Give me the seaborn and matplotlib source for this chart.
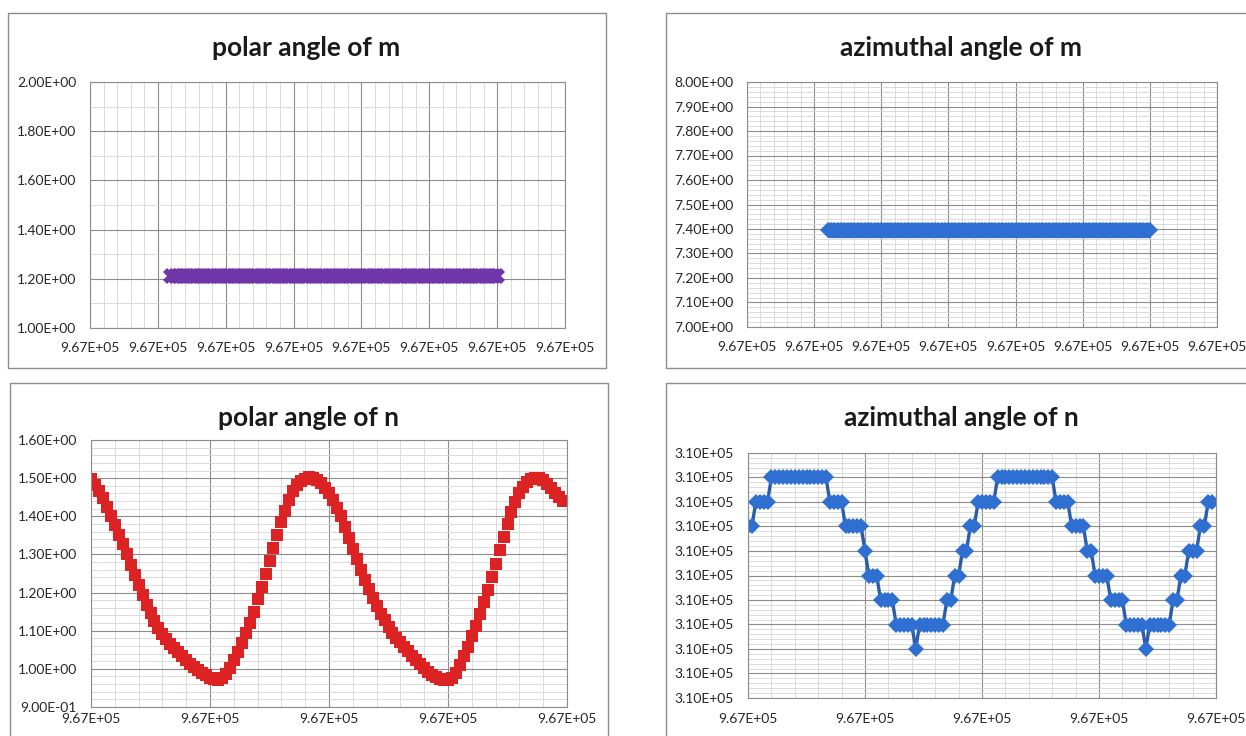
import numpy as np
import pandas as pd
import seaborn as sns
import matplotlib.pyplot as plt
from matplotlib.ticker import MultipleLocator, AutoMinorLocator, FuncFormatter
from matplotlib.patches import Rectangle

# sample times (every label reads 9.67E+05)
t_m = 967212.0 + 0.5 * np.arange(97)
t_n = 967230.0 + 0.1 * np.arange(120)

polar_m_value = 1.21
azim_m_value = 7.395

polar_n = [
    1.498, 1.482, 1.466, 1.447, 1.425, 1.402, 1.378, 1.352, 1.327, 1.300,
    1.272, 1.245, 1.219, 1.193, 1.168, 1.146, 1.126, 1.108, 1.092, 1.078,
    1.066, 1.054, 1.044, 1.033, 1.022, 1.013, 1.005, 0.998, 0.990, 0.983,
    0.977, 0.973, 0.972, 0.975, 0.986, 1.003, 1.022, 1.043, 1.067, 1.093,
    1.120, 1.150, 1.182, 1.215, 1.248, 1.283, 1.318, 1.352, 1.385, 1.415,
    1.443, 1.465, 1.482, 1.493, 1.499, 1.502, 1.501, 1.495, 1.486, 1.475,
    1.462, 1.443, 1.422, 1.400, 1.372, 1.343, 1.315, 1.287, 1.260, 1.233,
    1.210, 1.187, 1.166, 1.145, 1.127, 1.110, 1.095, 1.082, 1.070, 1.058,
    1.046, 1.035, 1.023, 1.012, 1.002, 0.993, 0.985, 0.978, 0.973, 0.971,
    0.972, 0.977, 0.990, 1.010, 1.033, 1.058, 1.085, 1.113, 1.143, 1.175,
    1.208, 1.242, 1.276, 1.311, 1.346, 1.380, 1.410, 1.437, 1.460, 1.478,
    1.490, 1.498, 1.501, 1.500, 1.494, 1.485, 1.473, 1.460, 1.451, 1.440,
]

# azimuthal angle of n, in steps of 0.1 above 309999.5
azim_n_steps = [
    7, 7, 8, 8, 8, 8, 9, 9, 9, 9,
    9, 9, 9, 9, 9, 9, 9, 9, 9, 9,
    9, 8, 8, 8, 8, 7, 7, 7, 7, 7,
    6, 5, 5, 5, 4, 4, 4, 4, 3, 3,
    3, 3, 3, 2, 3, 3, 3, 3, 3, 3,
    3, 4, 4, 5, 5, 6, 6, 7, 7, 8,
    8, 8, 8, 8, 9, 9, 9, 9, 9, 9,
    9, 9, 9, 9, 9, 9, 9, 9, 9, 8,
    8, 8, 8, 7, 7, 7, 7, 6, 6, 5,
    5, 5, 5, 4, 4, 4, 4, 3, 3, 3,
    3, 3, 2, 3, 3, 3, 3, 3, 3, 4,
    4, 5, 5, 6, 6, 6, 7, 7, 8, 8,
]
azim_n = 309999.5 + 0.1 * np.array(azim_n_steps)

titles = ["polar angle of m", "azimuthal angle of m", "polar angle of n", "azimuthal angle of n"]

purple = "#7035A8"
blue = "#2E6FD1"
red = "#DC2222"

sns.set_style("white")
plt.rcParams["font.family"] = ["Lato", "DejaVu Sans"]

W, H = 1246, 736
fig = plt.figure(figsize=(W / 100, H / 100), dpi=100)


def px_axes(x0, y0, x1, y1):
    return fig.add_axes([x0 / W, 1 - y1 / H, (x1 - x0) / W, (y1 - y0) / H])


def box(x0, y0, x1, y1):
    fig.add_artist(Rectangle((x0 / W, 1 - y1 / H), (x1 - x0) / W, (y1 - y0) / H,
                             transform=fig.transFigure, fill=False,
                             edgecolor="#8c8c8c", lw=1.0))


sci = FuncFormatter(lambda v, p: f"{v:.2E}")


def style(ax, xlim, xstep, ylim, ystep, yminor, xpad):
    ax.set_xlim(*xlim)
    ax.set_ylim(*ylim)
    ax.xaxis.set_major_locator(MultipleLocator(xstep))
    ax.xaxis.set_minor_locator(AutoMinorLocator(5))
    ax.yaxis.set_major_locator(MultipleLocator(ystep))
    ax.yaxis.set_minor_locator(AutoMinorLocator(yminor))
    ax.xaxis.set_major_formatter(sci)
    ax.yaxis.set_major_formatter(sci)
    ax.grid(which="major", color="#8c8c8c", lw=0.8)
    ax.grid(which="minor", color="#d6d6d6", lw=0.6)
    ax.set_axisbelow(True)
    for s in ax.spines.values():
        s.set_color("#8c8c8c")
        s.set_linewidth(0.8)
    ax.tick_params(which="major", length=3, width=0.8, color="#8c8c8c",
                   labelsize=10, labelcolor="#262626", direction="out")
    ax.tick_params(which="minor", length=0)
    ax.tick_params(axis="y", pad=7)
    ax.tick_params(axis="x", pad=xpad)
    ax.set_xlabel("")
    ax.set_ylabel("")


# polar angle of m
ax1 = px_axes(90, 82, 565, 328)
df1 = pd.DataFrame({"t": t_m, "v": [polar_m_value] * len(t_m)})
sns.lineplot(data=df1, x="t", y="v", ax=ax1, color=purple, marker="X",
             markersize=11, markeredgewidth=0, linewidth=10,
             solid_capstyle="butt", errorbar=None)
style(ax1, (967200, 967270), 10, (1.0, 2.0), 0.2, 2, 7)

# azimuthal angle of m
ax2 = px_axes(747, 82, 1217, 327)
df2 = pd.DataFrame({"t": t_m, "v": [azim_m_value] * len(t_m)})
sns.lineplot(data=df2, x="t", y="v", ax=ax2, color=blue, marker="D",
             markersize=8, markeredgewidth=0, linewidth=11,
             solid_capstyle="butt", errorbar=None)
style(ax2, (967200, 967270), 10, (7.0, 8.0), 0.1, 5, 7)

# polar angle of n
ax3 = px_axes(91, 440, 567, 707)
df3 = pd.DataFrame({"t": t_n, "v": polar_n})
sns.scatterplot(data=df3, x="t", y="v", ax=ax3, color=red, marker="s",
                s=72, linewidth=0)
style(ax3, (967230, 967242), 3, (0.9, 1.6), 0.1, 5, 1)

# azimuthal angle of n
ax4 = px_axes(748, 453, 1216, 698)
df4 = pd.DataFrame({"t": t_n, "v": azim_n})
sns.lineplot(data=df4, x="t", y="v", ax=ax4, color="#2B5CA8", marker="D",
             markersize=8, markerfacecolor=blue, markeredgewidth=0,
             linewidth=2.4, errorbar=None)
style(ax4, (967230, 967242), 3, (309999.5, 310000.5), 0.1, 5, 8)

box(8, 13, 606, 368)
box(666, 13, 1252, 368)
box(10, 383, 608, 742)
box(666, 383, 1252, 742)

for (cx, cy), title in zip([(306, 48), (961, 48), (308, 418), (961, 418)], titles):
    fig.text(cx / W, 1 - cy / H, title, ha="center", va="center",
             fontsize=19, fontweight="bold", color="#1a1a1a")

fig.savefig("out.png", dpi=100)
